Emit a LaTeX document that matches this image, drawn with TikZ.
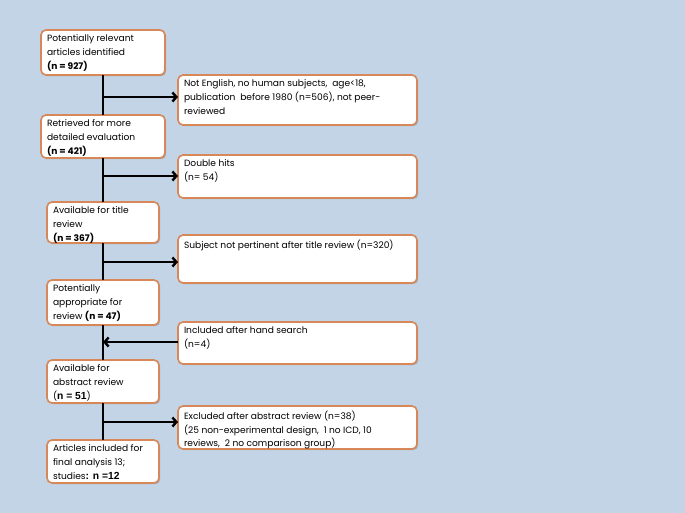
\documentclass[tikz,border=0pt]{standalone}
\usepackage{fontspec}
\setmainfont{Poppins}
\newfontfamily\arialb{Liberation Sans}
\usetikzlibrary{arrows.meta,shadows}
\definecolor{bgc}{RGB}{194,212,230}
\definecolor{boxc}{RGB}{215,135,88}
\tikzset{
  box/.style={draw=boxc, line width=1.6pt, fill=white, rounded corners=5pt,
    inner xsep=6pt, inner ysep=3pt, outer sep=0pt, anchor=north west,
    drop shadow={shadow xshift=1.2pt, shadow yshift=-1.2pt, opacity=0.35, fill=black!60}},
  flow/.style={line width=2.4pt, black},
  arr/.style={flow, -{Straight Barb[length=4pt,width=9pt]}}
}
\newcommand\nb[1]{{\arialb\bfseries\fontsize{10.3}{13.7}\selectfont #1}}
\newcommand\bx[6]{\node[box] (#1) at (#2,#3) {\parbox[c][\dimexpr#5pt-6pt\relax][t]{\dimexpr#4pt-12pt\relax}{\fontsize{9.1}{13.7}\selectfont\vspace*{1.8pt}#6}};}
\begin{document}
\begin{tikzpicture}[x=1pt,y=-1pt]
\fill[bgc] (0,0) rectangle (685,513);
\useasboundingbox (0,0) rectangle (685,513);
\bx{b1}{41}{30}{124}{45}{Potentially relevant\\articles identified\\\textbf{(n = 927)}}
\bx{r1}{178}{75}{239}{50}{Not English, no human subjects,\ \ age<18,\\publication\ \ before 1980 (n=506), not peer-\\reviewed}
\bx{b2}{41}{115}{124}{43}{Retrieved for more\\detailed evaluation\\\textbf{(n = 421)}}
\bx{r2}{178}{155}{239}{43}{Double hits\\(n= 54)}
\bx{b3}{47}{202}{112}{41}{Available for title\\review\\\textbf{(n = 367)}}
\bx{r3}{178}{235}{239}{48}{Subject not pertinent after title review (n=320)}
\bx{b4}{47}{280}{112}{45}{Potentially\\appropriate for\\review \textbf{(n = 47)}}
\bx{r4}{178}{322}{239}{42}{Included after hand search\\(n=4)}
\bx{b5}{47}{360}{112}{43}{Available for\\abstract review\\(\nb{n = 51})}
\bx{r5}{178}{406}{239}{43}{Excluded after abstract review (n=38)\\(25 non-experimental design,\ \ 1 no ICD, 10\\reviews,\ \ 2 no comparison group)}
\bx{b6}{47}{440}{112}{43}{Articles included for\\final analysis 13;\\studies\nb{: n =12}}
\draw[flow] (b1.south) -- (b2.north);
\draw[flow] (b2.south) -- (b3.north);
\draw[flow] (b3.south) -- (b4.north);
\draw[flow] (b4.south) -- (b5.north);
\draw[flow] (b5.south) -- (b6.north);
\draw[arr] (b1.south |- 0,97) -- (r1.west |- 0,97);
\draw[arr] (b2.south |- 0,176) -- (r2.west |- 0,176);
\draw[arr] (b3.south |- 0,262) -- (r3.west |- 0,262);
\draw[arr] (r4.west |- 0,342) -- (b4.south |- 0,342);
\draw[arr] (b5.south |- 0,422) -- (r5.west |- 0,422);
\end{tikzpicture}
\end{document}
